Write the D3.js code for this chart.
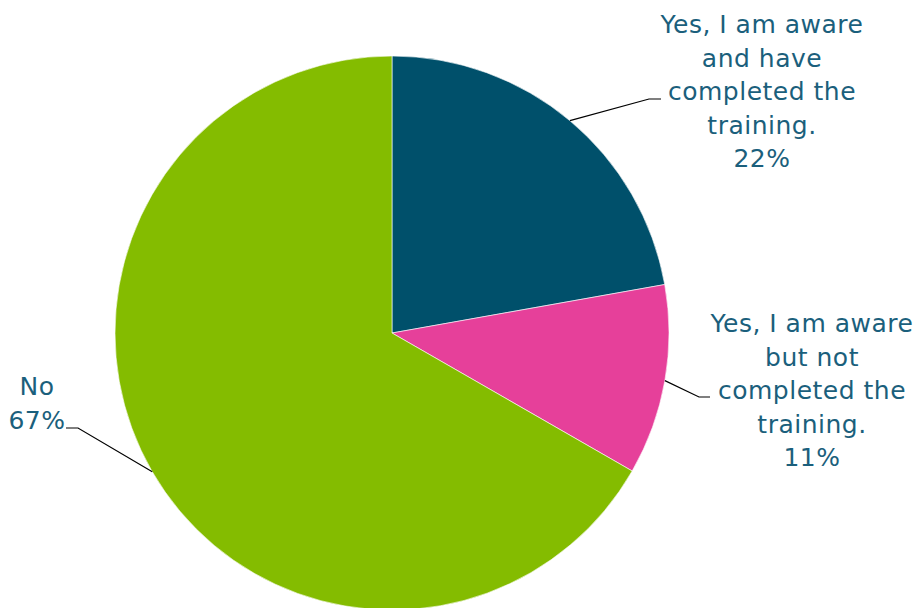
<!DOCTYPE html>
<html>
<head>
<meta charset="utf-8">
<script src="https://cdnjs.cloudflare.com/ajax/libs/d3/7.8.5/d3.min.js"></script>
<style>
  body { margin: 0; background: #fff; }
  svg { display: block; }
</style>
</head>
<body>
<div id="chart"></div>
<script>
// data
var categories = [
  "Yes, I am aware and have completed the training.",
  "Yes, I am aware but not completed the training.",
  "No"
];
var values = [22.2, 11.1, 66.7];
var colors = ["#00506b", "#e6409a", "#84bc00"];

// category text wrapped as in the original; the percentage is appended
var labelLines = [
  ["Yes, I am aware", "and have", "completed the", "training."],
  ["Yes, I am aware", "but not", "completed the", "training."],
  ["No"]
];

// label layout: text centre x, first baseline y, elbow point, end of leader
var labelLayout = [
  {x: 762, y: 33, elbow: [649, 99], end: [661, 99]},
  {x: 812, y: 332, elbow: [699, 397], end: [710, 397]},
  {x: 37, y: 395, elbow: [78, 428], end: [66, 428]}
];

var width = 922,
    height = 608,
    radius = 277,
    cx = 392,
    cy = 333;

var total = d3.sum(values);

var pie_data = categories.map(function(c, i) {
  return {
    name: c,
    value: values[i],
    color: colors[i],
    lines: labelLines[i].concat([Math.round(values[i] / total * 100) + "%"]),
    layout: labelLayout[i]
  };
});

var pie = d3.pie()
  .sort(null)
  .value(function(d) { return d.value; });

var arc = d3.arc()
  .innerRadius(0)
  .outerRadius(radius);

var edgeArc = d3.arc()
  .innerRadius(radius)
  .outerRadius(radius);

var svg = d3.select("#chart").append("svg")
  .attr("width", width)
  .attr("height", height);

var g = svg.append("g")
  .attr("transform", "translate(" + cx + "," + cy + ")");

var slices = g.selectAll(".arc")
  .data(pie(pie_data))
  .enter().append("g")
  .attr("class", "arc");

slices.append("path")
  .attr("d", arc)
  .style("fill", function(d) { return d.data.color; })
  .style("stroke", "#fff")
  .style("stroke-width", 0.6);

// leader lines
svg.selectAll(".leader")
  .data(pie(pie_data))
  .enter().append("polyline")
  .attr("class", "leader")
  .attr("points", function(d) {
    var p = edgeArc.centroid(d);
    var start = [p[0] + cx, p[1] + cy];
    return [start, d.data.layout.elbow, d.data.layout.end].map(function(q) { return q.join(","); }).join(" ");
  })
  .style("fill", "none")
  .style("stroke", "#000")
  .style("stroke-width", 1.2);

// labels
var labels = svg.selectAll(".label")
  .data(pie_data)
  .enter().append("text")
  .attr("class", "label")
  .attr("text-anchor", "middle")
  .style("font-family", "'DejaVu Sans', sans-serif")
  .style("font-size", "25px")
  .style("letter-spacing", "0.5px")
  .style("fill", "#1b5f7c");

labels.selectAll("tspan")
  .data(function(d) {
    return d.lines.map(function(l, i) { return {text: l, i: i, layout: d.layout}; });
  })
  .enter().append("tspan")
  .attr("x", function(d) { return d.layout.x; })
  .attr("y", function(d) { return d.layout.y + d.i * 33.5; })
  .text(function(d) { return d.text; });
</script>
</body>
</html>
